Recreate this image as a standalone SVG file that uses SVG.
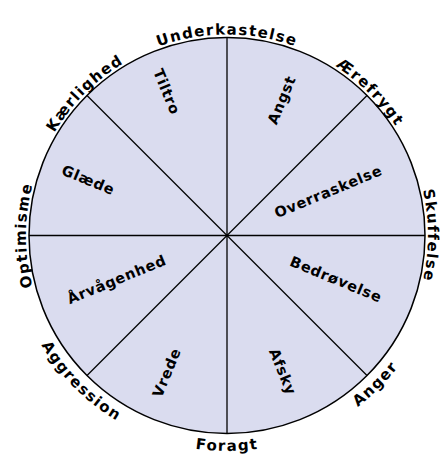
<svg xmlns="http://www.w3.org/2000/svg" width="443" height="456" viewBox="0 0 443 456">
<style>
.lbl{font-family:"DejaVu Sans","Liberation Sans",sans-serif;font-weight:bold;fill:#000}
.in{font-size:14.5px;letter-spacing:0.7px}
.out{font-size:15px;letter-spacing:1.4px}
.ln{stroke:#000;stroke-width:1.3;fill:none}
</style>
<defs>
<path id="pU" d="M97.8,81.5 A201,201 0 0 1 356.2,81.5"/>
<path id="pK" d="M26.8,218 A201,201 0 0 1 209.5,35.3"/>
<path id="pAe" d="M244.5,35.3 A201,201 0 0 1 427.2,218"/>
<path id="pS" d="M381,106.3 A201,201 0 0 1 381,364.7"/>
<path id="pO" d="M73,364.7 A201,201 0 0 1 73,106.3"/>
<path id="pF" d="M88.5,400.6 A215.5,215.5 0 0 0 365.5,400.6"/>
<path id="pAg" d="M12.3,254.3 A215.5,215.5 0 0 0 208.2,450.2"/>
<path id="pAn" d="M245.8,450.2 A215.5,215.5 0 0 0 441.7,254.3"/>
</defs>
<g id="wheel">
<circle cx="227" cy="235.5" r="198" fill="#dadcef" stroke="#000" stroke-width="1.5"/>
</g>
<g id="connectors">
<line class="ln" x1="227" y1="37.5" x2="227" y2="433.5"/>
<line class="ln" x1="29" y1="235.5" x2="425" y2="235.5"/>
<line class="ln" x1="87" y1="95.5" x2="367" y2="375.5"/>
<line class="ln" x1="367" y1="95.5" x2="87" y2="375.5"/>
</g>
<g id="sector-tiltro"><text class="lbl in" text-anchor="middle" transform="translate(166.7,91.7) rotate(67.5)" y="5">Tiltro</text></g>
<g id="sector-angst"><text class="lbl in" text-anchor="middle" transform="translate(281.7,100) rotate(-67.5)" y="5">Angst</text></g>
<g id="sector-overraskelse"><text class="lbl in" text-anchor="middle" transform="translate(328.3,191.7) rotate(-22.5)" y="5">Overraskelse</text></g>
<g id="sector-glaede"><text class="lbl in" text-anchor="middle" transform="translate(88.3,180) rotate(22.5)" y="5">Glæde</text></g>
<g id="sector-arvagenhed"><text class="lbl in" text-anchor="middle" transform="translate(116.7,279.5) rotate(-22.5)" y="5">Årvågenhed</text></g>
<g id="sector-bedrovelse"><text class="lbl in" text-anchor="middle" transform="translate(336,279.3) rotate(22.5)" y="5">Bedrøvelse</text></g>
<g id="sector-vrede"><text class="lbl in" text-anchor="middle" transform="translate(166.7,372.7) rotate(-67.5)" y="5">Vrede</text></g>
<g id="sector-afsky"><text class="lbl in" text-anchor="middle" transform="translate(282.7,371.7) rotate(67.5)" y="5">Afsky</text></g>
<g id="label-underkastelse"><text class="lbl out" text-anchor="middle"><textPath href="#pU" startOffset="50%">Underkastelse</textPath></text></g>
<g id="label-kaerlighed"><text class="lbl out" text-anchor="middle"><textPath href="#pK" startOffset="50%">Kærlighed</textPath></text></g>
<g id="label-aerefrygt"><text class="lbl out" text-anchor="middle"><textPath href="#pAe" startOffset="50%">Ærefrygt</textPath></text></g>
<g id="label-skuffelse"><text class="lbl out" text-anchor="middle"><textPath href="#pS" startOffset="50%">Skuffelse</textPath></text></g>
<g id="label-optimisme"><text class="lbl out" text-anchor="middle"><textPath href="#pO" startOffset="50%">Optimisme</textPath></text></g>
<g id="label-foragt"><text class="lbl out" text-anchor="middle"><textPath href="#pF" startOffset="50%">Foragt</textPath></text></g>
<g id="label-aggression"><text class="lbl out" text-anchor="middle"><textPath href="#pAg" startOffset="50%">Aggression</textPath></text></g>
<g id="label-anger"><text class="lbl out" text-anchor="middle"><textPath href="#pAn" startOffset="50%">Anger</textPath></text></g>
</svg>
